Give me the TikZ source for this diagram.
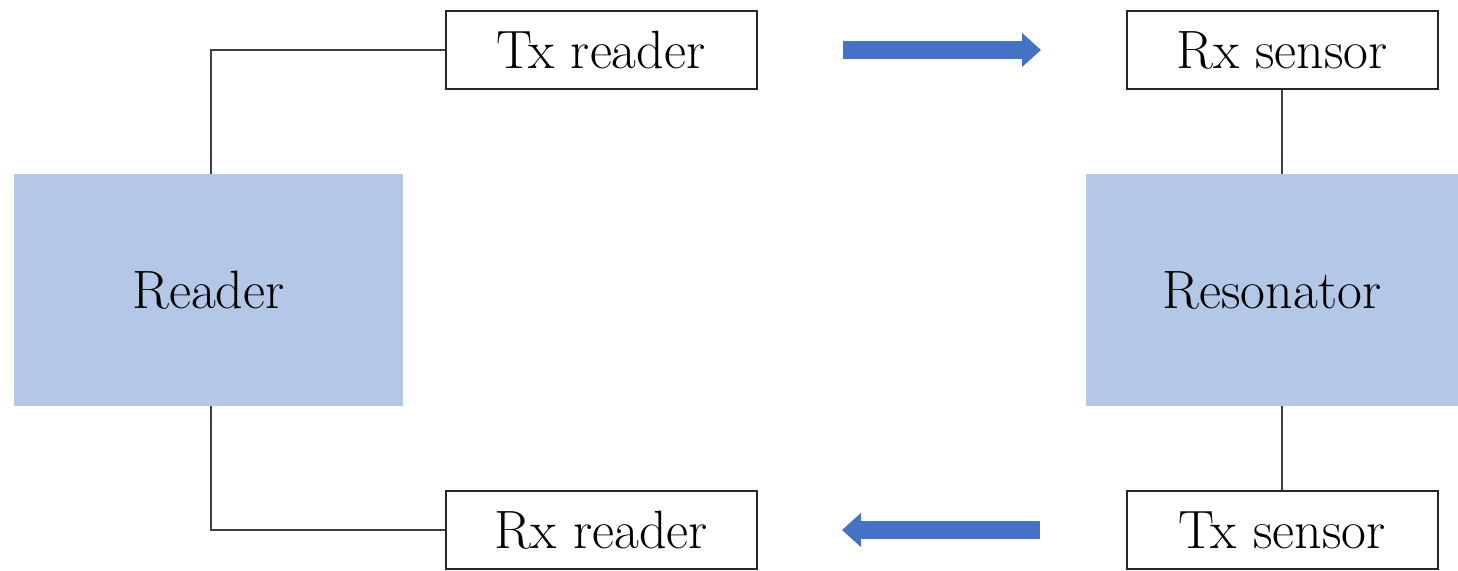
\documentclass[tikz,border=0pt]{standalone}
\usetikzlibrary{arrows.meta}
\definecolor{boxblue}{HTML}{B4C7E7}
\definecolor{arrowblue}{HTML}{4472C4}
\definecolor{linegray}{HTML}{404040}
\begin{document}
\begin{tikzpicture}[x=1pt,y=-1pt,
  bigbox/.style={rectangle, fill=boxblue, draw=none, inner sep=0pt, font=\fontsize{54}{64}\selectfont},
  smallbox/.style={rectangle, draw=black!85, line width=2pt, fill=white, inner sep=0pt,
    minimum width=311pt, minimum height=78pt, font=\fontsize{54}{64}\selectfont},
  conn/.style={draw=linegray, line width=2.4pt},
  flow/.style={draw=arrowblue, line width=18pt, -{Triangle[length=19pt,width=33pt]}}]
\useasboundingbox (0,0) rectangle (1458,570);
\node[bigbox, minimum width=389pt, minimum height=232pt] (reader) at (208.5,290) {Reader};
\node[bigbox, minimum width=372pt, minimum height=232pt] (reson) at (1272,290) {Resonator};
\node[smallbox] (txr) at (601,50) {Tx reader};
\node[smallbox] (rxs) at (1282,50) {Rx sensor};
\node[smallbox] (rxr) at (601,530) {Rx reader};
\node[smallbox] (txs) at (1282,530) {Tx sensor};
\draw[conn] ([xshift=2.5pt]reader.north) |- (txr.west);
\draw[conn] ([xshift=2.5pt]reader.south) |- (rxr.west);
\draw[conn] (rxs.south) -- (rxs.south |- reson.north);
\draw[conn] (txs.north) -- (txs.north |- reson.south);
\coordinate (a1s) at (843,50);
\coordinate (a1e) at (1041,50);
\coordinate (a2s) at (1040,530);
\coordinate (a2e) at (842,530);
\draw[flow] (a1s) -- (a1e);
\draw[flow] (a2s) -- (a2e);
\end{tikzpicture}
\end{document}
